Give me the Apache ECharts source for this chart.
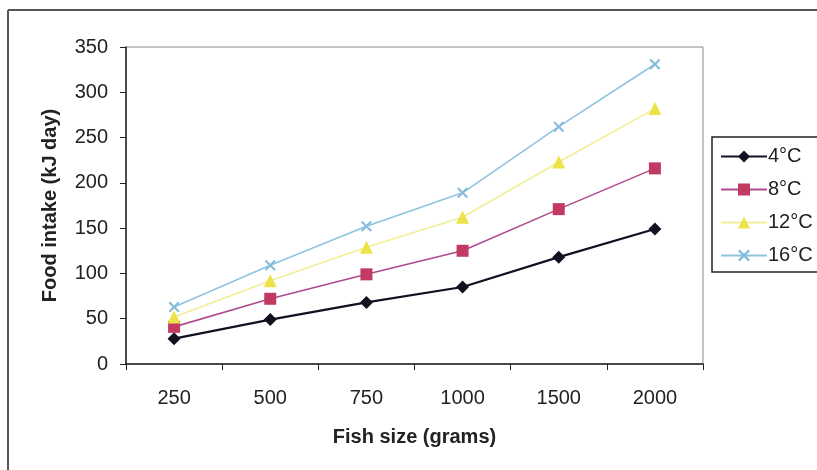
<!DOCTYPE html>
<html>
<head>
<meta charset="utf-8">
<script src="https://cdn.jsdelivr.net/npm/echarts@6/dist/echarts.min.js"></script>
<style>
  html, body { margin: 0; padding: 0; background: #fff; }
  #chart { width: 817px; height: 470px; }
</style>
</head>
<body>
<div id="chart"></div>
<script>
// Fish size classes (grams) on the category axis
const sizes = ['250', '500', '750', '1000', '1500', '2000'];
const yTicks = [0, 50, 100, 150, 200, 250, 300, 350];

// Daily food intake (kJ) per temperature
const intake4 = [28, 49, 68, 85, 118, 149];
const intake8 = [41, 72, 99, 125, 171, 216];
const intake12 = [52, 92, 129, 162, 223, 282];
const intake16 = [63, 109, 152, 189, 262, 331];

const seriesNames = ['4°C', '8°C', '12°C', '16°C'];

const FONT = '"Liberation Sans", Arial, sans-serif';
const crossPath = 'path://M0,1.4L1.4,0L5,3.6L8.6,0L10,1.4L6.4,5L10,8.6L8.6,10L5,6.4L1.4,10L0,8.6L3.6,5Z';

const chart = echarts.init(document.getElementById('chart'), null, { renderer: 'canvas' });

chart.setOption({
  backgroundColor: '#ffffff',
  animation: false,
  textStyle: { fontFamily: FONT },
  graphic: [
    { type: 'line', shape: { x1: 8, y1: 10, x2: 8, y2: 470 }, style: { stroke: '#555', lineWidth: 2 } },
    { type: 'line', shape: { x1: 8, y1: 10, x2: 817, y2: 10 }, style: { stroke: '#555', lineWidth: 2 } }
  ],
  grid: {
    left: 126, top: 47, right: 114, bottom: 106,
    show: true, borderColor: '#8a8a8a', borderWidth: 1, backgroundColor: 'transparent'
  },
  legend: {
    orient: 'vertical',
    left: 712, top: 137,
    data: seriesNames,
    itemWidth: 46, itemHeight: 15, itemGap: 12,
    padding: [9, 30, 6, 8],
    borderColor: '#222', borderWidth: 1.5,
    backgroundColor: '#fff',
    textStyle: { fontFamily: FONT, fontSize: 20, color: '#222', lineHeight: 21, padding: [0, 0, 0, -4] }
  },
  xAxis: {
    type: 'category',
    data: sizes,
    boundaryGap: true,
    name: 'Fish size (grams)',
    nameLocation: 'middle',
    nameGap: 63,
    nameTextStyle: { fontFamily: FONT, fontSize: 20, fontWeight: 'bold', color: '#222' },
    axisLine: { show: true, lineStyle: { color: '#222', width: 1.5 } },
    axisTick: { show: true, alignWithLabel: false, length: 6, lineStyle: { color: '#222' } },
    axisLabel: { fontFamily: FONT, fontSize: 20, color: '#222', margin: 24 },
    splitLine: { show: false }
  },
  yAxis: {
    type: 'value',
    min: yTicks[0], max: yTicks[yTicks.length - 1], interval: 50,
    name: 'Food intake (kJ day)',
    nameLocation: 'middle',
    nameGap: 66,
    nameTextStyle: { fontFamily: FONT, fontSize: 20, fontWeight: 'bold', color: '#222' },
    axisLine: { show: true, lineStyle: { color: '#222', width: 1.5 } },
    axisTick: { show: true, inside: false, length: 6, lineStyle: { color: '#222' } },
    axisLabel: { fontFamily: FONT, fontSize: 20, color: '#222', margin: 18 },
    splitLine: { show: false }
  },
  series: [
    {
      name: seriesNames[0], type: 'line', data: intake4,
      symbol: 'diamond', symbolSize: 13,
      itemStyle: { color: '#111122' },
      lineStyle: { color: '#111122', width: 2.2 }
    },
    {
      name: seriesNames[1], type: 'line', data: intake8,
      symbol: 'rect', symbolSize: 12,
      itemStyle: { color: '#c23a62' },
      lineStyle: { color: '#b04a8e', width: 1.6 }
    },
    {
      name: seriesNames[2], type: 'line', data: intake12,
      symbol: 'triangle', symbolSize: 13,
      itemStyle: { color: '#ece348' },
      lineStyle: { color: '#f2ee96', width: 1.6 }
    },
    {
      name: seriesNames[3], type: 'line', data: intake16,
      symbol: crossPath, symbolSize: 11,
      itemStyle: { color: '#86bcdc' },
      lineStyle: { color: '#8ec4e0', width: 1.6 }
    }
  ]
});
</script>
</body>
</html>
